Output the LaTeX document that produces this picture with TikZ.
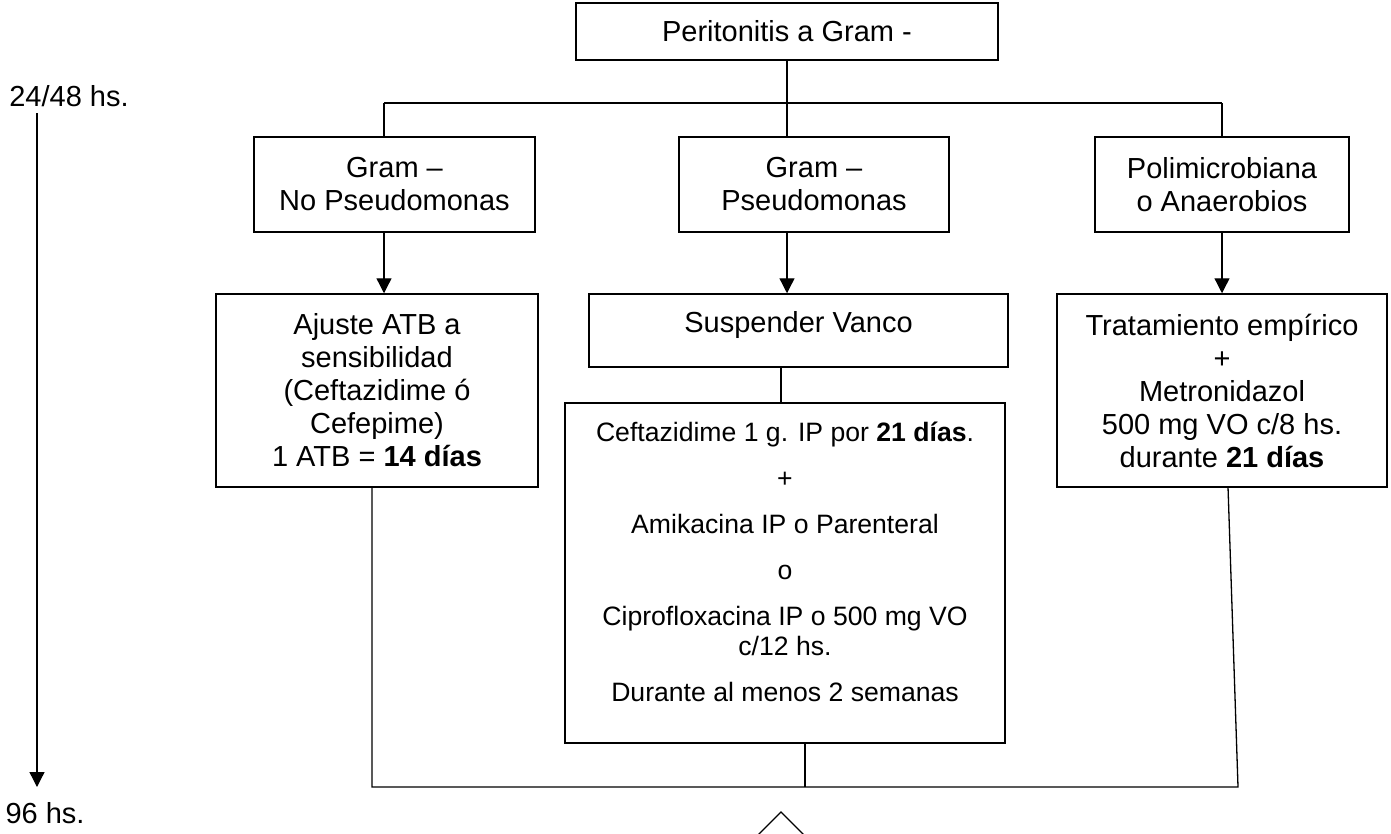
\documentclass[tikz,border=0pt]{standalone}
\usepackage{fontspec}
\setmainfont{Liberation Sans}
\usetikzlibrary{arrows.meta,shapes.geometric}
\newcommand\bxfont{\fontsize{29}{33}\selectfont}
\newcommand\smfont{\fontsize{26.6}{30}\selectfont}
\begin{document}
\begin{tikzpicture}[x=1pt,y=-1pt, line width=1.3pt,
  box/.style={draw, line width=1.5pt, align=center, font=\bxfont, inner sep=0pt},
  arr/.style={-{Triangle[width=15pt,length=15pt]}},
  lbl/.style={font=\bxfont, inner sep=0pt}]
\useasboundingbox (0,0) rectangle (1391,833);
\clip (0,0) rectangle (1391,833);
% boxes
\node[box, minimum width=422pt, minimum height=57pt] (top) at (787,31.5) {Peritonitis a Gram -};
\node[box, minimum width=281pt, minimum height=95pt] (g1) at (394.5,184.5) {Gram –\\No Pseudomonas};
\node[box, minimum width=270pt, minimum height=95pt] (g2) at (814,184.5) {Gram –\\Pseudomonas};
\node[box, minimum width=254pt, minimum height=95pt] (g3) at (1222,184.5) {Polimicrobiana\\o Anaerobios};
\node[box, minimum width=322pt, minimum height=193pt] (t1) at (377,390.5) {Ajuste ATB a\\sensibilidad\\(Ceftazidime ó\\Cefepime)\\1 ATB = \textbf{14 días}};
\node[box, minimum width=419pt, minimum height=73pt, text depth=18pt] (sv) at (798.5,330.5) {Suspender Vanco};
\node[box, minimum width=330pt, minimum height=193pt] (t3) at (1222,390.5) {Tratamiento empírico\\+\\Metronidazol\\500 mg VO c/8 hs.\\durante \textbf{21 días}};
\node[box, minimum width=440pt, minimum height=340pt] (big) at (785,573) {};
\node[font=\smfont, align=center, inner sep=0pt] (bigtxt) at (785,562) {Ceftazidime 1 g. IP por \textbf{21 días}.\\[16pt]+\\[16pt]Amikacina IP o Parenteral\\[16pt]o\\[16pt]Ciprofloxacina IP o 500 mg VO\\c/12 hs.\\[16pt]Durante al menos 2 semanas};
% timeline
\node[lbl] (t0) at (69,96) {24/48 hs.};
\node[lbl] (t96) at (45,813) {96 hs.};
\coordinate (ts) at (37,113);
\coordinate (te) at (37,787);
\draw[arr] (ts) -- (te);
% top connectors
\coordinate (hl) at (384,103);
\coordinate (hr) at (1222,103);
\draw (hl) -- (hr);
\draw (top.south) -- (top.south |- g2.north);
\draw (hl) -- (hl |- g1.north);
\draw (hr) -- (hr |- g3.north);
% arrows
\draw[arr] (g1.south -| hl) -- (t1.north -| hl);
\draw[arr] (g2.south -| top.south) -- (sv.north -| top.south);
\draw[arr] (g3.south) -- (t3.north);
\coordinate (xa) at (781,0);
\draw (sv.south -| xa) -- (big.north -| xa);
% bottom
\coordinate (bl) at (372,787);
\coordinate (br) at (1238,787);
\coordinate (rt) at (1228,487);
\coordinate (xb) at (805,0);
\draw (t1.south -| bl) -- (bl) -- (br) -- (rt);
\draw (big.south -| xb) -- (xb |- bl);
% decision
\node[draw, diamond, shape aspect=1, minimum width=150pt, minimum height=150pt, inner sep=0pt, anchor=north] (dec) at (781,811) {};
\end{tikzpicture}
\end{document}
